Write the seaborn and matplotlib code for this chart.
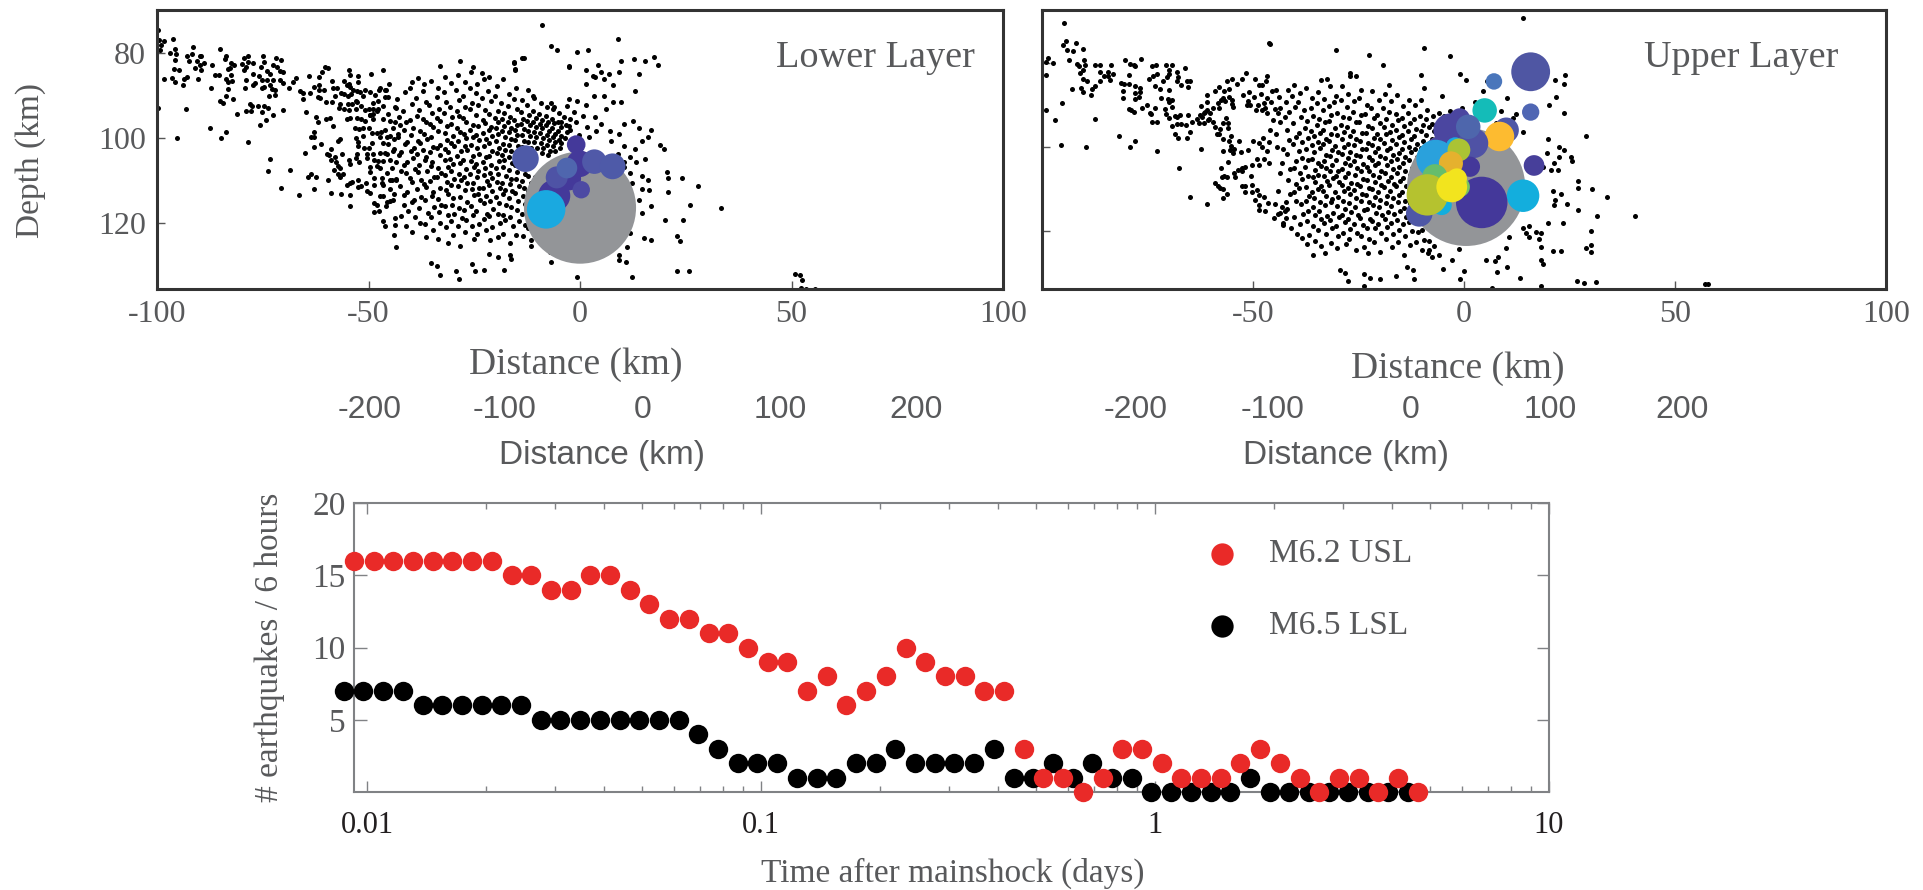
import pandas as pd
import matplotlib
matplotlib.use("Agg")
import matplotlib.pyplot as plt
import seaborn as sns

# Aftershock locations (distance km, depth km).
lower_west = [
(-99.8,74.8),(-99.6,77),(-98.4,77.2),(-99.1,78.1),(-99.2,79.3),(-96.1,76.9),(-95.7,79.2),(-97,80.1),(-95.4,80.4),(-95.8,81.7),
(-93,80.7),(-91.8,80.3),(-91.5,78.7),(-92.4,82),(-90.6,82),(-89.9,80.7),(-89.5,80.7),(-88.8,82.5),(-89.9,83),(-91,83.5),
(-89.5,84),(-95.9,83.8),(-94.9,84.2),(-98.4,86.2),(-96.5,86),(-95.8,87),(-93.9,87.7),(-93.7,86.2),(-92.9,85.7),(-90.3,86.2),
(-86.9,82.9),(-85,79.2),(-83.8,80.7),(-84,81.6),(-82.5,82.4),(-81.7,82.8),(-82.7,83.6),(-83.3,83.8),(-86.2,85.2),(-85.3,85.2),
(-82.5,85.2),(-83.6,86.2),(-82.3,86.7),(-83.3,87),(-87.2,88.4),(-83.2,88.6),(-79.2,88.4),(-78.9,86.4),(-80,82.7),(-79.4,81.2),
(-78.4,80.7),(-78.6,82.2),(-77.3,82.4),(-78.9,83.4),(-79.4,84.2),(-77.2,85),(-75.9,85.4),(-75.2,86.4),(-74,86.4),(-76.8,87.2),
(-77.2,87.6),(-75,80.7),(-74.7,82.2),(-75.4,83.4),(-73.9,84.4),(-73.2,85.1),(-71.8,81.2),(-70.7,81.8),(-72.6,82.8),(-71.7,83.4),
(-70.9,84.4),(-70.3,84.6),(-72.5,86.4),(-71,86.4),(-70.3,87.1),(-73.4,87.6),(-74.7,88),(-75.1,88.4),(-72.8,88.5),(-72.1,88.8),
(-73.5,90.3),(-72.1,90),(-68.7,88.4),(-67.9,86.8),(-67.2,85.9),(-64,85.4),(-61,84.5),(-60.4,83.3),(-59.5,83.7),(-61.8,85.8),
(-61.6,87.7),(-62.8,88.1),(-61.8,88.8),(-63.8,89.5),(-66.2,88.9),(-65.4,89.5),(-65.6,90.9),(-60.5,88.8),(-61.9,90.5),(-61.4,90.7),
(-85,91.3),(-84.3,91.9),(-83.6,90.3),(-82.1,90.9),(-78,92.1),(-77.5,92.5),(-76.1,92.6),(-74.8,92.5),(-73.7,93),(-70.1,93.5),
(-81,94.3),(-78.9,93.8),(-77.8,93.8),(-75.2,94),(-72.6,94.7),(-74.3,95.8),(-75.6,96.9),(-93.1,93.3),(-99.8,93),(-87.4,97.6),
(-83.6,98.6),(-84.9,100),(-95.3,100),(-78.4,101),(-73.2,104.9),(-73.7,107.9),(-68.5,107.6),(-70.6,111.7),(-66.5,113.4),(-64.3,109.3),
(-63.6,108.5),(-62.5,109.2),(-62.9,112.1),(-64.7,94),(-62.4,95.2),(-61.9,96.2),(-60.1,95.5),(-59.2,95.4),(-58.4,97.2),(-63,98.6),
(-63.5,99.7),(-62.9,99.7),(-65.1,103.6),(-63,102.2),(-61.2,101.4),(-57.3,100.8),(-56.7,100.2),(-58.9,102.7),(-59.9,103.8),(-59.3,104.1),
(-58.9,105.1),(-57.9,104.4),(-57.8,105.6),(-56.2,103.9),(-54.5,105.1),(-54.3,106.1),(-52.8,103.7),(-52.9,104.7),(-52.2,105.7),(-57.1,106.6),
(-56.7,107.2),(-58.1,107.6),(-57.3,108.4),(-56.1,108.4),(-56.7,109.1),(-59.6,109.8),(-54.4,110.6),(-55,111),(-54,110.4),(-52.5,109.9),
(-52.6,111.6),(-51.8,111.4),(-50.7,110.6),(-58.9,112.9),(-56.6,113.1),(-54.3,113.5),(-54.3,116),(-50.3,112.4),(-49.6,112.9),(-48.8,111),
(-48.8,109.4),(-46.5,119.5),(-46.1,120.6),(-44,122.9),(-43.6,125.7),(-48.8,115.4),(-48.1,115.8),(-48.6,117.5),(-47.4,117.1),(-45.7,115),
(-45.9,115.9),(-47.3,113.7),(-46.5,113.6),(-43.7,118.8),(-43.7,120.4),(-44.3,114.7),(-44.8,114.8),(-58.6,86.6),(-55.9,86.7),(-54.7,87.3),
(-54.5,84.2),(-54.4,85.2),(-52.5,85.5),(-52.5,87),(-49.3,85),(-46.5,84.2),(-45.2,87.3),(-46,88.7),(-58.3,88.4),(-57.5,88.4),
(-56.6,89.5),(-57.9,90.3),(-55.1,87.7),(-54.4,88.1),(-53.6,88.7),(-52.8,88.9),(-55.7,89.7),(-54.9,90.3),(-54.2,89.8),(-52,89.2),
(-50.8,88.7),(-49.6,89.3),(-48.5,89.9),(-51.4,90.3),(-53,91.3),(-53.8,92.1),(-54.9,92.1),(-56.7,92.1),(-58.7,91.7),(-60,91.7),
(-56.9,93.1),(-55.8,93.3),(-54.5,93.4),(-52.9,93.2),(-49.7,94.7),(-48.9,94.4),(-47.9,93.6),(-52.8,91.7),(-51.8,92.6),(-50.8,93.4),
(-49.9,93.2),(-49,93.3),(-47.7,93.3),(-47.7,91.3),(-48.9,91.8),(-46.2,90.5),(-45.3,90.5),(-43.7,92.7),(-45.3,94.3),(-46.5,92.5),
(-43.6,93),(-49.6,94.7),(-48.9,95.5),(-50.8,96.1),(-51.8,95.5),(-52.7,95.3),(-54.3,95.3),(-55.2,95.5),(-53.2,97.8),(-52.2,98),
(-51.2,97.6),(-49.9,97.8),(-49.2,98.9),(-48,98.8),(-47,98.6),(-46,98.2),(-46.5,95.6),(-45,96),(-43.7,96.4),(-44.3,97.8),(-43.1,99),
(-44.9,99.5),(-45.6,99.9),(-47.3,99.7),(-44,100.4),(-52.9,100),(-51.3,99.6),(-52.4,101),(-52.6,101.9),(-51,102.3),(-50,102.3),
(-49.1,101.3),(-46.5,101.3),(-45.3,101.5),(-44,102.6),(-44.3,103),(-50.4,103.7),(-50.4,104.7),(-49,103.7),(-47.3,103.5),(-46.1,103.5),
(-45.7,103.9),(-48.8,105.3),(-47.7,105.5),(-46.5,105.5),(-45,105.2),(-43.6,105.7),(-49.6,106.9),(-48.1,106.6),(-47.3,107.2),(-45.7,108.2),
(-44.5,107.2),(-49.6,108),(-46.9,109.5),(-44.5,109.9),(-46.9,110.6),(-44.9,110),(-46.5,111),(-43.6,109.8),(-45,112),(-43.9,113.3),
(-47.4,88.7),(-47.2,88.3),(-45.9,88.8),
]

# crowded middle of the lower cloud, estimated column by column
lower_core = [
(-33.1,83.1),(-28.3,82),(-25.3,83.3),(-23.2,84.8),(-15.6,82.3),(-13.3,81.3),(-15.3,84),(-35.3,129.3),(-33.8,130.1),(-33.1,132.2),
(-29.4,131.2),(-28.6,133.2),(-25.5,129.6),(-24.8,131.2),(-22.7,131),(-17.9,131),(-19.3,127.9),(-21.4,127.2),(-16.5,127.5),(-16.2,128.5),(-6.8,129.1),(-11.7,125.5),
(-43.2,90.8),(-42.9,95.2),(-42.6,97.1),(-43,99.8),(-42.4,103.4),(-42.8,104.1),(-42.2,107.9),(-43.4,109.6),(-42.5,111.3),(-41.7,115.8),(-42.3,118.4),
(-41.4,89.3),(-41.8,93.7),(-41.2,96.4),(-41.6,98.2),(-40.9,100.9),(-41.3,101.4),(-41,105.6),(-41.7,106.3),(-41.1,108.2),(-40.8,112.7),(-41.5,113.4),(-40.6,117.3),(-41.2,120.6),
(-39.8,86.8),(-40.3,88.4),(-39.6,92.1),(-40.1,95.8),(-39.4,97.7),(-40,99.4),(-39.2,102.3),(-39.9,103.1),(-39.5,104.7),(-39.1,107.4),(-40.2,109.5),(-39.7,110.3),(-39.3,114.6),(-39.8,115.1),(-39,118.7),(-39.6,122.2),
(-38.4,85.9),(-38.7,90.6),(-38.1,93.4),(-38.6,94.9),(-37.9,98.3),(-38.3,100.7),(-37.8,101.2),(-38.5,103.9),(-38,106.4),(-38.4,108.1),(-37.7,109.9),(-38.6,112.1),(-37.6,113.8),(-38.1,116.6),(-37.8,119.9),
(-36.9,87.4),(-37.2,89.1),(-36.5,91.7),(-37,95.6),(-36.3,96.2),(-36.8,99.1),(-36.2,100.3),(-37.1,102.8),(-36.4,104.4),(-36.7,105.2),(-36.1,107.8),(-36.9,110.9),(-36.3,111.6),(-36.6,114.7),(-36,117.6),(-36.7,120.3),(-36.4,123.2),
(-35.2,86.6),(-35.6,92.3),(-35,94.1),(-35.4,96.8),(-34.8,97.5),(-35.3,99.9),(-34.7,102.1),(-35.5,103.3),(-34.9,105.8),(-35.2,106.6),(-34.6,109.2),(-35.4,110.1),(-34.8,112.8),(-35.1,113.6),(-34.5,116.2),(-35.3,118.6),(-34.7,121.7),
(-33.6,88.2),(-33.9,90.4),(-33.3,93.2),(-33.7,95.3),(-33.1,96.1),(-33.6,98.4),(-33,101.6),(-33.8,102.4),(-33.2,104.1),(-33.5,107.1),(-32.9,108.3),(-33.7,109.1),(-33.1,111.9),(-33.5,114.3),(-32.8,115.8),(-33.4,117.4),(-33,119.9),(-33.6,123.7),
(-31.8,85.8),(-32.2,89.3),(-31.6,91.6),(-32.1,94.2),(-31.5,97.3),(-32,98.9),(-31.4,100.6),(-31.9,102.7),(-31.3,103.4),(-31.8,105.1),(-31.2,106.9),(-32,108.8),(-31.4,110.4),(-31.7,112.2),(-31.1,113.1),(-31.9,116.1),(-31.3,118.2),(-31.6,121),(-31.2,124.6),
(-30.4,87.2),(-30.8,92.8),(-30.2,95.1),(-30.6,96.7),(-30,99.6),(-30.5,101.2),(-29.9,102),(-30.7,104.9),(-30.1,106.2),(-30.4,107.7),(-29.8,109.6),(-30.6,111.1),(-30,114.2),(-30.3,115.7),(-29.7,117.8),(-30.4,119.6),(-30,122.9),
(-28.9,85.2),(-29.2,88.7),(-28.6,91.1),(-29.1,93.8),(-28.5,94.9),(-29,97.7),(-28.4,98.6),(-28.8,100.8),(-28.2,103.1),(-29,104.3),(-28.4,105.9),(-28.7,108.6),(-28.1,110),(-28.9,111.4),(-28.3,113.9),(-28.6,116.5),(-28,118.9),(-28.8,120.8),(-28.3,125.4),
(-27.3,86.9),(-27.7,90.1),(-27.1,92.7),(-27.6,95.4),(-27,96.3),(-27.5,99),(-26.9,100.1),(-27.3,102),(-26.8,102.9),(-27.6,105.2),(-27,107.3),(-27.4,109.1),(-26.8,110.6),(-27.2,112.3),(-26.7,115.1),(-27.5,117),(-26.9,119.4),(-27.3,122.1),
(-25.8,84.6),(-26.1,88.4),(-25.5,91.9),(-26,93.2),(-25.4,96.9),(-25.9,98.1),(-25.3,99.7),(-25.8,101.6),(-25.2,104.2),(-25.7,105.4),(-25.1,106.8),(-25.9,108.4),(-25.3,110.7),(-25.6,112),(-25,113.4),(-25.7,115.9),(-25.2,118.1),(-25.6,120.7),(-25.1,123.8),
(-24.3,87.3),(-24.7,89.6),(-24.1,92.3),(-24.6,94.7),(-24,97.2),(-24.5,99.4),(-23.9,100.6),(-24.3,102.3),(-23.8,103.9),(-24.6,106.1),(-24,107.9),(-24.4,109.3),(-23.8,111.8),(-24.2,113.1),(-23.7,114.6),(-24.5,117.3),(-23.9,120.2),(-24.3,122.7),
(-22.8,86.1),(-23.1,90.7),(-22.5,93.4),(-23,95.9),(-22.4,96.6),(-22.9,98.8),(-22.3,100.2),(-22.8,101.9),(-22.2,104.6),(-23,105.7),(-22.4,107),(-22.7,108.7),(-22.1,110.1),(-22.9,111.9),(-22.3,113.7),(-22.6,115.2),(-22,117.9),(-22.7,119.1),(-22.2,121.6),
(-21.4,85.7),(-21.7,88.9),(-21.1,91.4),(-21.6,94.4),(-21,97.4),(-21.5,98.1),(-20.9,99.6),(-21.4,101.3),(-20.8,103.1),(-21.6,104.3),(-21,106.4),(-21.3,108.2),(-20.7,109.4),(-21.5,111),(-20.9,112.6),(-21.2,114.8),(-20.6,116.7),(-21.4,118.4),(-20.8,120.9),(-21.2,124),
(-19.7,87.8),(-20.1,90.3),(-19.5,93.7),(-20,95.3),(-19.4,96.2),(-19.9,97.8),(-19.3,99.1),(-19.8,100.7),(-19.2,102.4),(-19.7,103.6),(-19.1,105.5),(-19.9,107.2),(-19.3,108.6),(-19.6,110.3),(-19,111.7),(-19.8,113.9),(-19.2,115.4),(-19.5,117.8),(-18.9,120.1),(-19.4,123.4),
(-18.2,86.3),(-18.6,91.8),(-18,94.2),(-18.5,95.7),(-17.9,97.3),(-18.4,98.4),(-17.8,99.9),(-18.3,101.4),(-17.7,102.8),(-18.5,104.1),(-17.9,105.1),(-18.2,106.9),(-17.6,108.9),(-18.4,110.6),(-17.8,112.2),(-18.1,113.3),(-17.5,115.7),(-18.3,118.1),(-17.7,119.3),(-18.1,122.5),
(-16.8,89.8),(-17.1,92.6),(-16.5,95.1),(-17,96.4),(-16.4,97.6),(-16.9,98.7),(-16.3,100.3),(-16.8,101.7),(-16.2,103.2),(-16.7,104.5),(-16.1,105.9),(-16.9,107.6),(-16.3,109.7),(-16.6,110.9),(-16,112.6),(-16.8,114.2),(-16.2,116.3),(-16.5,118.7),(-15.9,120.7),(-16.6,124.8),
(-15.2,88.3),(-15.6,90.9),(-15,93.3),(-15.5,95.8),(-14.9,96.9),(-15.4,98.1),(-14.8,99.3),(-15.3,100.6),(-14.7,101.9),(-15.2,103.3),(-14.6,104.8),(-15.4,106.3),(-14.8,108.1),(-15.1,109.7),(-14.5,111.4),(-15.3,113),(-14.7,114.9),(-15,116.9),(-14.4,119.6),(-15.1,122.8),
(-13.7,91.2),(-14,93.9),(-13.4,95.6),(-13.9,96.7),(-13.3,97.9),(-13.8,99.4),(-13.2,100.7),(-13.7,102.1),(-13.1,103.2),(-13.6,106.8),(-13,108.4),(-13.8,110.2),(-13.2,111.8),(-13.5,113.6),(-12.9,115.6),(-13.7,117.9),(-13.1,120.4),(-13.4,123.1),
(-12.3,88.7),(-12.6,92.2),(-12,94.6),(-12.5,96.1),(-11.9,97),(-12.4,98.3),(-11.8,99.5),(-12.3,100.9),(-11.7,102.3),(-12.2,108.9),(-11.6,110.7),(-12.4,112.6),(-11.8,114.4),(-12.1,116.1),(-11.5,118.6),(-12.2,121.2),(-11.6,124),
(-10.8,90.6),(-11.1,93.6),(-10.5,95.4),(-11,96.4),(-10.4,97.4),(-10.9,98.7),(-10.3,99.8),(-10.8,101.1),(-10.2,102.4),(-10.7,109.1),(-10.1,112.8),(-10.9,115.1),(-10.3,117.2),(-10.6,119.9),(-10,122.7),
(-9.3,91.9),(-9.6,94.3),(-9,95.9),(-9.5,96.8),(-8.9,97.6),(-9.4,98.9),(-8.8,100.1),(-9.3,101.2),(-8.7,102.3),(-9.1,103.6),(-9.4,121.6),(-8.8,124.6),
(-7.8,92.7),(-8.1,94.9),(-7.5,96.3),(-8,97.1),(-7.4,98.4),(-7.9,99.4),(-7.3,100.6),(-7.8,101.7),(-7.2,103),(-7.6,104.1),(-7.7,123.2),(-7.1,126.8),
(-6.4,93.2),(-6.7,95.6),(-6.1,96.6),(-6.6,97.7),(-6,99),(-6.5,99.9),(-5.9,101.1),(-6.4,102),(-5.8,103.2),(-6.2,125.1),
(-4.9,94.1),(-5.2,96.4),(-4.6,97.4),(-5.1,98.3),(-4.5,99.6),(-5,100.6),(-4.4,101.3),(-4.8,102.3),(-3.8,95.2),(-3.4,97),(-3.1,98.6),(-3.6,100),(-2.4,95.7),(-2.7,97.3),
]

lower_east = [
(-8.9,73.5),(-6.8,78.5),(-5.4,79.4),(-0.6,79.8),(1.9,79.4),(8.9,76.7),(12.8,81.4),(15.4,82),(17.5,81),(18.4,82.8),(9.8,82),
(9.2,84.6),(1.5,84.2),(4.3,83),(5,84.6),(3.6,85.7),(-2.6,83.2),(-13.7,81.3),(-15.5,82.4),(-15.4,83.9),(14,85.1),(12.9,88.9),
(7.8,87.6),(1.5,87.3),(-2.6,90.9),(-0.6,91.3),(1.5,92.4),(3.2,90.1),(5.7,90.2),(7.8,91.7),(9.8,91.7),(6.1,93.2),(-6.8,91.8),
(-6.1,92.8),(-11,90.1),(0.8,94.8),(3.6,95.2),(5,96.8),(7.1,98.3),(9.2,99.1),(10.5,96.8),(12.6,96),(14,97.6),(16.8,98.1),(16.1,99.9),
(14.7,100.7),(18.9,101.7),(19.8,102.7),(12.9,102.7),(10.5,101.9),(13.3,105.8),(15.4,105),(11.9,108.2),(14.7,109),(16.1,109.8),(20.5,108),
(20.9,109.4),(24.1,109.4),(27.9,111.3),(20.9,112.8),(14.7,112.1),(16.2,112.2),(14,114.5),(16.8,116.1),(14.7,117.6),(26.1,115.7),(33.4,116.5),
(20.2,119.2),(24.4,119.2),(23,123.1),(23.7,124.3),(15.1,123.5),(16.8,123.9),(11.9,122.4),(11.2,125.7),(9.2,127.5),(9.2,128.7),(10.8,129.1),
(23,131.2),(25.8,131.2),(12.3,132.8),(-0.6,132.6),(50.8,132),(51.9,132.2),(52.4,133.4),(53.5,135.4),(55.6,135.4),(52.2,135.2),
(-2.5,83.3),(3,85.4),(5.7,86.1),(6.8,85.1),(-3,92.5),(-1.5,94),(-4.5,96.2),(-1,96.3),(1.7,97.4),(3.9,98.5),(-2.4,98.1),(-0.3,99.3),
(2.2,99.9),(7.4,100.7),(9,103.7),(10.4,105.7),(11.8,104.4),(12.4,110.5),(10.4,106.8),
]

upper_west = [
(-94.7,70.4),(-94.2,74.7),(-95.1,75.8),(-92,75.2),(-94,76.9),(-92.6,77.1),(-90.4,76.7),(-98.5,78.8),(-99.1,79.8),(-97.3,79.9),
(-93.6,79.3),(-90,79.2),(-91.6,80.2),(-91.2,80.8),(-89.8,80.4),(-87.4,80.6),(-86.2,80.4),(-83.7,80.6),(-90.2,81.6),(-91,82.4),
(-86.2,82.1),(-84.4,82.1),(-85.4,83.2),(-83.2,82.6),(-84.4,83.2),(-83.9,84),(-90.3,83.8),(-89.4,84.2),(-86.2,84.2),(-87.4,85.6),
(-88.2,86.2),(-90.8,85.9),(-92.8,86.1),(-90.2,86.9),(-88.3,87.6),(-99.1,82.8),(-95.3,89.6),(-99.1,91.1),(-97,93.6),(-87.4,93.4),
(-81.7,97.5),(-78,98.6),(-79.2,100.1),(-95.4,99.5),(-89.6,100.1),(-72.7,101),(-67.6,105),(-62.3,100.5),(-64.9,111.8),(-60.8,113.5),
(-57.2,112.1),(-79.3,82.9),(-78.3,80.4),(-76.5,79.1),(-80.4,79.2),(-79.2,80.2),(-78,80.8),(-81.3,84.7),(-80.5,85),(-79.3,85),
(-80.7,86.7),(-78,85.4),(-76.8,85.9),(-76.7,86.8),(-78,87.2),(-77,88),(-80.7,88.3),(-78,88.7),(-75.2,89.9),(-79.4,91),(-78.9,91.3),
(-78.3,91.7),(-76.4,90.8),(-74.3,91.8),(-73.3,90.7),(-73.9,94.1),(-72.8,94),(-74.2,92.2),(-74.7,83.9),(-73.8,83.2),(-72.8,82.7),
(-73.9,80.7),(-73.1,80.4),(-70.6,80.4),(-69.2,80.4),(-70,81.6),(-69.9,82.6),(-68.1,82.2),(-67.8,83.4),(-66.2,81.3),(-65.7,84.3),
(-64.9,84.3),(-65.5,85.7),(-67.1,85.2),(-67.9,84.2),(-70.3,83.3),(-71.3,84.4),(-73.2,85.6),(-72,86.2),(-69.8,86.5),(-70.2,88.7),
(-71.7,88.4),(-69.9,89.3),(-69.3,88.8),(-70.8,90.9),(-69.2,90.5),(-70.5,92.2),(-69.8,93),(-67.2,92.5),(-65.5,92.5),(-68.6,92.6),
(-68,92.8),(-67.1,94.5),(-69.1,95),(-68,94.5),(-68.6,96.8),(-67.8,97.8),(-65.6,97.9),(-64.9,96.5),(-65.8,94.8),(-64.5,94.1),
(-63.3,93.3),(-62.5,92.3),(-62.2,92.9),(-61.3,91.7),(-60.8,91.1),(-59.4,90.7),(-58.1,90.7),(-57,88.4),(-57.7,88.8),(-62.3,90.2),
(-60.8,87.6),(-59,86.6),(-58.1,85.8),(-56.2,84.3),(-54.9,83.9),(-55.8,86.1),(-56.9,86.7),(-55.6,88),(-54.9,88.8),(-60.8,89.2),
(-58.3,89.5),(-56.6,89),(-55,89.7),(-54.7,90.5),(-61.5,92),(-60.1,92),(-60.5,93.4),(-59.5,94.1),(-58.9,95.3),(-57.9,95.7),
(-57,94.4),(-56.4,93.1),(-55.9,94.3),(-62.7,94.3),(-61.7,94.4),(-60.7,93.6),(-56,95.5),(-58.6,97),(-58,97),(-57,98.1),
(-55.6,98.5),(-55.2,97.3),(-55.2,99.7),(-53.3,98.6),(-54.6,100.6),(-55.4,100.8),(-54.7,101.5),(-52.8,101.1),(-51.2,100.8),(-50.1,98.6),
(-48.6,99.1),(-47.7,97.8),(-46.2,98.7),(-45.9,96),(-44.6,96.8),(-44.4,100),(-46.6,101),(-47.8,100.1),(-46.3,103.8),(-47.4,102.8),
(-49.1,102.8),(-48.5,104.3),(-50.2,104.3),(-52.5,104.9),(-53.6,105.5),(-55.9,103.5),(-57.2,100.9),(-52.5,105.7),(-54.5,106.1),(-54.2,107.2),
(-57.5,105.1),(-56.9,106.8),(-56.2,107.2),(-57.3,107.1),(-57.1,110),(-56.2,111.2),(-59.1,108.5),(-58.4,109.4),(-57.8,109.7),(-52,110.7),
(-51.8,109.3),(-50.2,110.8),(-49,110.2),(-48.6,111.4),(-47.4,111.8),(-46.4,113.3),(-44.8,113.6),(-45.1,117),(-44.1,116),(-43.5,115.6),
(-48.5,115),(-47.2,115.2),(-43.2,114.4),(-42.2,113),(-42.4,115.2),(-43,118),(-42.9,118.5),(-42.2,116.8),(-48.6,113.7),(-49.5,112.6),
(-50.3,109.1),(-50.5,106.8),(-51.8,104.7),(-52.7,109.4),(-44,110.4),(-43.5,106.2),(-43.2,103.7),(-42.8,100.5),(-43.6,94),(-42.5,92.8),
(-44.8,90.9),(-43.6,90.7),(-45.2,93.6),(-46.6,92),(-47.1,90.7),(-47.9,91.1),(-49.2,91.2),(-50.7,90.1),(-51.4,89.9),(-48.8,89.9),
(-53.9,85),(-52.6,83.8),(-51.6,82.3),(-49.5,83.9),(-48.6,85.2),(-46.7,83),(-46.9,84.3),(-47.9,85.2),(-44.5,86.4),(-43.9,88),
(-52.3,87.6),(-50.9,86.8),(-49.8,88.1),(-48.2,87.3),(-46.8,88.4),(-45.5,86.7),(-51.1,89),(-47.3,89.6),(-45.7,89.4),(-44.1,91.9),
]

# crowded middle of the upper cloud, estimated column by column
upper_core = [
(-46.3,75.2),(-46,75.4),(-30.4,76.9),(-22.6,78.1),(-27,82.3),(-26.9,83),(-33.9,84.1),(-32.5,83.8),(-25.6,83.2),(-19.3,80.6),(-17.7,85.3),
(-29.4,129.2),(-28.1,130),(-27.5,131.9),(-23.8,130.2),(-22.2,131.2),(-20,131.5),(-16.2,130.8),(-13.4,128.5),(-12.2,129.2),(-23.6,133.2),(-11.9,131.5),(-5,129),
(-41.8,86.4),(-42.2,89.2),(-41.4,91.7),(-41.9,95.9),(-41.5,98.4),(-42,101.6),(-41.2,105.2),(-41.7,107.8),(-41.3,111.1),(-41.9,114.7),(-41.1,119.2),
(-40.4,85.3),(-40.7,87.9),(-40.1,90.6),(-40.6,94.2),(-39.9,97.6),(-40.5,99.3),(-39.8,103.4),(-40.3,104.9),(-39.7,108.7),(-40.4,110.6),(-39.9,112.8),(-40.2,116.7),(-39.6,120.6),
(-38.9,87.1),(-39.3,89.4),(-38.7,92.8),(-39.1,96.7),(-38.5,98.9),(-39,100.9),(-38.4,102.6),(-38.8,106.2),(-38.3,107.6),(-39,109.8),(-38.6,113.6),(-38.2,115.9),(-38.9,118.3),(-38.3,121.7),
(-37.4,85.9),(-37.8,91.2),(-37.2,93.9),(-37.7,95.4),(-37,97.9),(-37.5,100.4),(-36.9,103.1),(-37.6,104.7),(-37,106.9),(-37.4,109.5),(-36.8,111.6),(-37.5,112.9),(-36.9,115.3),(-37.3,117.6),(-36.8,120.9),(-37.2,123.2),
(-36,88.3),(-36.3,90.8),(-35.7,92.6),(-36.2,96.3),(-35.6,97.5),(-36.1,99.6),(-35.5,101.2),(-36,102.9),(-35.4,105.4),(-35.9,107.1),(-35.3,108.3),(-36.1,110.7),(-35.5,112.1),(-35.8,114.4),(-35.2,116.2),(-35.9,118.9),(-35.4,122.4),(-35.7,125.6),
(-34.6,86.8),(-34.9,89.6),(-34.3,93.3),(-34.8,94.8),(-34.2,96.6),(-34.7,98.9),(-34.1,100.2),(-34.6,103.7),(-34,104.6),(-34.5,106.6),(-33.9,109.2),(-34.7,110.1),(-34.1,113.1),(-34.4,115.2),(-33.8,117.2),(-34.5,119.8),(-33.9,123.5),
(-33.2,88.6),(-33.5,91.3),(-32.9,94.1),(-33.4,95.9),(-32.8,98.1),(-33.3,99.3),(-32.7,101.8),(-33.2,103.3),(-32.6,105.1),(-33.1,106.8),(-32.5,108),(-33.3,110.4),(-32.7,111.7),(-33,113.9),(-32.4,116.4),(-33.1,118.2),(-32.6,120.6),(-33,125.2),
(-31.7,85.4),(-32.1,90.2),(-31.5,92.4),(-32,93.8),(-31.4,96.9),(-31.9,98.6),(-31.3,100.7),(-31.8,102.2),(-31.2,104.4),(-31.7,105.8),(-31.1,107.5),(-31.9,109.1),(-31.3,112.4),(-31.6,113.2),(-31,115.6),(-31.8,117.4),(-31.2,119.3),(-31.5,122.8),
(-30.3,87.8),(-30.7,89.4),(-30.1,91.9),(-30.6,95.6),(-30,97.2),(-30.5,99.7),(-29.9,101.1),(-30.4,103.2),(-29.8,105.6),(-30.3,106.9),(-29.7,108.4),(-30.5,110.8),(-29.9,111.9),(-30.2,114.1),(-29.6,116.6),(-30.4,118.8),(-29.8,121.2),(-30.1,124.1),
(-28.9,85.6),(-29.2,88.8),(-28.6,92.9),(-29.1,94.7),(-28.5,96.4),(-29,98.2),(-28.4,100),(-28.9,101.6),(-28.3,103.9),(-28.8,105.2),(-28.2,107.2),(-29,109),(-28.4,110.4),(-28.7,112.8),(-28.1,114.7),(-28.9,116.2),(-28.3,117.9),(-28.6,120.4),(-28,123.1),
(-27.4,87.3),(-27.8,90.6),(-27.2,93.1),(-27.7,95.2),(-27.1,97.4),(-27.6,99.2),(-27,101.2),(-27.5,102.7),(-26.9,104.3),(-27.4,106.1),(-26.8,108.6),(-27.6,109.7),(-27,111.3),(-27.3,113.4),(-26.7,115.4),(-27.5,117.1),(-26.9,119.6),(-27.2,121.9),
(-26,89.1),(-26.3,91.7),(-25.7,94),(-26.2,96.1),(-25.6,98.2),(-26.1,99.5),(-25.5,101.8),(-26,103.4),(-25.4,105.1),(-25.9,106.7),(-25.3,108.9),(-26.1,110.2),(-25.5,112.1),(-25.8,114.2),(-25.2,116.1),(-26,118.4),(-25.4,120.5),(-25.7,124.6),
(-24.5,86.4),(-24.9,88.3),(-24.3,92.4),(-24.8,94.1),(-24.2,96.6),(-24.7,98.6),(-24.1,100.4),(-24.6,102.1),(-24,104),(-24.5,105.8),(-23.9,107.7),(-24.7,109.4),(-24.1,111.2),(-24.4,112.9),(-23.8,115.1),(-24.6,116.8),(-24,118.6),(-24.3,121.1),(-23.7,123.7),
(-23.1,89.9),(-23.4,92.1),(-22.8,95),(-23.3,96.7),(-22.7,99.1),(-23.2,100.6),(-22.6,102.4),(-23.1,104.7),(-22.5,105.6),(-23,107.9),(-22.4,109.8),(-23.2,111.4),(-22.6,113.2),(-22.9,114.8),(-22.3,117.1),(-23.1,119.2),(-22.5,122),(-22.8,125.3),
(-21.7,86.7),(-22,90.8),(-21.4,93.2),(-21.9,95.6),(-21.3,97.8),(-21.8,99.5),(-21.2,101.1),(-21.7,103.2),(-21.1,104.4),(-21.6,106.6),(-21,108.3),(-21.8,110),(-21.2,111.9),(-21.5,113.8),(-20.9,115.7),(-21.7,117.7),(-21.1,119.4),(-21.4,122.7),
(-20.2,88.9),(-20.6,92.3),(-20,94.4),(-20.5,96.9),(-19.9,98.2),(-20.4,100.2),(-19.8,102.1),(-20.3,103.9),(-19.7,105.8),(-20.2,107.2),(-19.6,109),(-20.4,110.7),(-19.8,112.7),(-20.1,114.3),(-19.5,116.1),(-20.3,118.3),(-19.7,120.4),(-20,124.9),
(-18.8,87.4),(-19.1,90.7),(-18.5,93.4),(-19,95.2),(-18.4,97),(-18.9,99.1),(-18.3,100.8),(-18.8,102.7),(-18.2,104.4),(-18.7,106.1),(-18.1,108.2),(-18.9,109.6),(-18.3,111.6),(-18.6,113.4),(-18,115.4),(-18.8,117.2),(-18.2,119.1),(-18.5,121.8),
(-17.3,89.1),(-17.7,91.6),(-17.1,94.7),(-17.6,96.4),(-17,98.4),(-17.5,100.2),(-16.9,101.9),(-17.4,103.3),(-16.8,105.2),(-17.3,107.1),(-16.7,108.7),(-17.5,110.4),(-16.9,112.2),(-17.2,114.1),(-16.6,116),(-17.4,118.2),(-16.8,120.6),(-17.1,123.9),
(-15.9,87.7),(-16.2,92.1),(-15.6,93.6),(-16.1,95.9),(-15.5,97.6),(-16,99.4),(-15.4,101.4),(-15.9,102.9),(-15.3,104.8),(-15.8,106.2),(-15.2,108),(-16,109.4),(-15.4,111.4),(-15.7,113.2),(-15.1,115.3),(-15.9,117.4),(-15.3,119.7),(-15.6,122.6),
(-14.4,90.3),(-14.8,93),(-14.2,95.1),(-14.7,97.1),(-14.1,98.9),(-14.6,100.4),(-14,102.4),(-14.5,103.8),(-13.9,105.6),(-14.4,107.3),(-13.8,109.4),(-14.6,110.8),(-14,112.8),(-14.3,114.5),(-13.7,116.6),(-14.5,118.3),(-13.9,121.1),(-14.2,125.6),
(-13,88.9),(-13.3,91.9),(-12.7,94.3),(-13.2,96.3),(-12.6,98),(-13.1,99.9),(-12.5,101.3),(-13,103.1),(-12.4,104.9),(-12.9,106.7),(-12.3,108.4),(-13.1,110.6),(-12.5,111.9),(-12.8,113.4),(-12.2,115.6),(-13,117.9),(-12.4,120.1),(-12.7,123.4),
(-11.5,90.1),(-11.9,93.4),(-11.3,95.7),(-11.8,97.4),(-11.2,99.2),(-11.7,100.6),(-11.1,102.4),(-11.6,104.1),(-11,105.9),(-11.5,107.4),(-10.9,109.4),(-11.7,111.1),(-11.1,112.6),(-11.4,117.9),(-10.8,120.2),(-11.3,122.6),
(-10.1,88.8),(-10.4,92.6),(-9.8,94.7),(-10.3,96.2),(-9.7,98.6),(-10.2,100.3),(-9.6,101.9),(-10.1,103.1),(-9.5,104.3),(-10,119.8),(-9.4,122.1),(-9.9,124.6),
(-8.7,91.1),(-9,93.3),(-8.4,95.3),(-8.9,97.2),(-8.3,99.4),(-8.8,100.8),(-8.2,122.4),(-8.6,125.2),(-7.3,92.6),(-7.6,94.6),(-7,96.3),(-7.5,98.1),(-6.8,99.1),(-7.2,123.5),
(-6,91.9),(-5.8,94),(-6.2,95.7),(-5.4,97.3),(-4.7,92.7),(-4.3,94.8),(-3.9,96.2),(-3.2,91.5),(-2.8,93.8),
]

upper_east = [
(14,69.2),(14.9,79.2),(-9.5,76.5),(-3.4,78.3),(-0.9,82.6),(0.5,84),(5.4,84.2),(7.2,83.8),(21.6,84),(23.7,85),(23.9,82.8),(21.9,88.2),(20.1,90),
(12.3,92.2),(10.3,88.4),(4.5,86.7),(6.1,89.9),(-10.1,82.8),(-9.5,85.9),(-5.1,87.8),(-0.4,90.7),(2.7,89.3),(8.8,91.4),(11.5,93.2),(14,96.5),
(7.7,94.2),(23.7,92),(29,97.4),(20,98.1),(22.5,99.9),(23.7,100.7),(22.4,102.3),(19.7,101.5),(25.6,103.3),(25.4,102.4),(18.7,104.7),(20.5,105.5),
(22.2,105.5),(21.3,103.8),(27,108),(27.1,109.8),(30.3,110),(33.8,111.8),(21,110.5),(23,111.3),(21.5,112.5),(21.3,113.8),(24.5,113.5),(27,114.9),
(31.6,116.4),(40.5,116.5),(23.4,118),(30,120),(19.8,118),(15.5,118.8),(14,119.2),(14.8,120.5),(15.5,121.5),(17.1,120.3),(18.3,120.5),(17.8,122),
(18.2,123.7),(21,124.7),(23,124.7),(29,124),(30,123.3),(30.2,125.1),(10.6,121.5),(10,124.1),(18.2,127),(18.8,127.8),(7.3,127.1),(8,126.1),
(5.3,126.8),(10.3,128.5),(7.9,129.8),(13.3,131.3),(6.7,133.5),(26.7,132),(28.5,132.3),(31.2,132.2),(18.3,133),(0,129.5),(-1,131.5),(5.1,135.1),
(57.1,132.6),(57.8,132.6),(58,134),(58.3,134.6),(-2.9,126.8),(-8.2,124.4),(-7.6,126.1),(-1.1,124.3),(-5.9,125.6),
]

# Rupture bubbles: distance, depth, diameter (km) and colour, in drawing order
lower_bubble_x = [0, -12.9, -0.1, -2.5, -6.1, -0.9, 3.4, 7.7, -5.5, -3.1, 0.3, -8]
lower_bubble_depth = [116.4, 104.9, 106.1, 109.6, 113.6, 101.6, 105.6, 106.7, 109.3, 107.1, 112.2, 116.8]
lower_bubble_size = [26.5, 6.3, 6.3, 5.5, 7.6, 4.4, 5.8, 6.1, 5.2, 4.9, 4.1, 9.1]
lower_bubble_color = ["#939598", "#4e5aa8", "#44399a", "#44399a", "#44399a", "#44399a", "#5059a8", "#4e5aa8", "#4e53a5", "#4f66ae", "#4d4aa3", "#1aa9e0"]

upper_bubble_x = [0.5, 15.8, 7.1, 15.8, 4.9, 10, 8.4, 16.6, 14, -1, -3.3, 2.2, -5.7, 1.4, 4.2, 1, -10.6, -5.3, -2.1, -6.7, -1.2, -3.1, -6.9, -1, -8.7, -2.9, -1.7]
upper_bubble_depth = [109.5, 82.1, 84.4, 91.7, 91.3, 96, 97.5, 104.4, 111.6, 93.2, 96, 99.1, 101.5, 104.7, 113.2, 95.2, 115.8, 113.8, 99.9, 102.9, 100.7, 103.9, 107.1, 109.5, 111.4, 109.5, 107.5]
upper_bubble_size = [28, 9.2, 3.9, 4.1, 5.8, 6, 7, 4.9, 7.7, 4.8, 7.9, 7.1, 7.9, 4.8, 12.2, 5.8, 6.3, 4.8, 4.4, 9.2, 5.4, 5.7, 6, 4.8, 9.8, 7.3, 4.8]
upper_bubble_color = ["#939598", "#4f56a3", "#4a76bb", "#4f66b3", "#14bcb8", "#4e57a6", "#fdbb30", "#473f9a", "#13aedd", "#4b46a0", "#4b46a0", "#4f52a5", "#4b46a0", "#44389a", "#44389a", "#4e66ac", "#4e57a6", "#13aedd", "#1aa9e0", "#2aa1dc", "#abc334", "#e5b12e", "#66bd6c", "#79c35e", "#b5c22f", "#f2e41e", "#f2e41e"]

# Earthquake rate curves
usl_time = [0.00927, 0.0104, 0.01167, 0.01309, 0.01469, 0.01648, 0.01849, 0.02075, 0.02328, 0.02612, 0.02931, 0.03289, 0.0369, 0.0414, 0.04645, 0.05212, 0.05848, 0.06561, 0.07362, 0.0826, 0.09268, 0.104, 0.1167, 0.1309, 0.1469, 0.1648, 0.1849, 0.2075, 0.2328, 0.2612, 0.2931, 0.3289, 0.369, 0.414, 0.4645, 0.5212, 0.5848, 0.6561, 0.7362, 0.826, 0.9268, 1.04, 1.167, 1.309, 1.469, 1.648, 1.849, 2.075, 2.328, 2.612, 2.931, 3.289, 3.69, 4.14, 4.645]
usl_count = [16, 16, 16, 16, 16, 16, 16, 16, 15, 15, 14, 14, 15, 15, 14, 13, 12, 12, 11, 11, 10, 9, 9, 7, 8, 6, 7, 8, 10, 9, 8, 8, 7, 7, 3, 1, 1, 0, 1, 3, 3, 2, 1, 1, 1, 2, 3, 2, 1, 0, 1, 1, 0, 1, 0]
lsl_time = [0.00873, 0.009795, 0.01099, 0.01233, 0.01384, 0.01552, 0.01742, 0.01954, 0.02193, 0.0246, 0.02761, 0.03097, 0.03475, 0.03899, 0.04375, 0.04909, 0.05508, 0.0618, 0.06934, 0.0778, 0.0873, 0.09795, 0.1099, 0.1233, 0.1384, 0.1552, 0.1742, 0.1954, 0.2193, 0.246, 0.2761, 0.3097, 0.3475, 0.3899, 0.4375, 0.4909, 0.5508, 0.618, 0.6934, 0.778, 0.873, 0.9795, 1.099, 1.233, 1.384, 1.552, 1.742, 1.954, 2.193, 2.46, 2.761, 3.097, 3.475, 3.899, 4.375]
lsl_count = [7, 7, 7, 7, 6, 6, 6, 6, 6, 6, 5, 5, 5, 5, 5, 5, 5, 5, 4, 3, 2, 2, 2, 1, 1, 1, 2, 2, 3, 2, 2, 2, 2, 3, 1, 1, 2, 1, 2, 1, 1, 0, 0, 0, 0, 0, 1, 0, 0, 0, 0, 0, 0, 0, 0]

depth_ticks = [80, 100, 120]
distance_ticks = [-100, -50, 0, 50, 100]
count_ticks = [5, 10, 15]
time_ticks = [0.01, 0.1, 1, 10]
old_ticks = ["-200", "-100", "0", "100", "200"]

W, H = 1923, 890
GREY = "#58595b"
SERIF = "Liberation Serif"
SANS = "Liberation Sans"

sns.set_theme(style="ticks")
plt.rcParams["font.family"] = [SERIF, "DejaVu Serif"]
plt.rcParams["axes.unicode_minus"] = False


def px_axes(fig, left, top, right, bottom):
    return fig.add_axes([left / W, 1 - bottom / H, (right - left) / W, (bottom - top) / H])


def fig_text(fig, x, y, s, **kw):
    kw.setdefault("color", GREY)
    kw.setdefault("ha", "center")
    kw.setdefault("va", "center")
    fig.text(x / W, 1 - y / H, s, **kw)


def draw_layer(ax, quakes, bub_x, bub_d, bub_size, bub_color, ylim, xlim=(-100, 100)):
    dots = pd.DataFrame(quakes, columns=["distance", "depth"])
    sns.scatterplot(data=dots, x="distance", y="depth", color="black", s=13, linewidth=0, ax=ax)
    # bubble diameters are in km, so tie them to the axis scale
    px_per_km = ax.get_position().width * W / (xlim[1] - xlim[0])
    areas = [(d * px_per_km * 0.72) ** 2 for d in bub_size]
    sns.scatterplot(x=bub_x, y=bub_d, s=areas, c=bub_color, linewidth=0, ax=ax, zorder=3)
    ax.set_xlim(*xlim)
    ax.set_ylim(*ylim)
    ax.set_xticks(distance_ticks)
    ax.set_yticks(depth_ticks)
    ax.set_xlabel("")
    ax.set_ylabel("")
    for s in ax.spines.values():
        s.set_linewidth(2.2)
        s.set_color("#333333")
    ax.tick_params(axis="both", direction="in", length=6, width=1, color="#555555", labelsize=23, labelcolor=GREY)
    ax.tick_params(axis="x", pad=8)
    ax.tick_params(axis="y", pad=8)
    ax.set_zorder(1)


fig = plt.figure(figsize=(W / 100, H / 100), dpi=100, facecolor="white")

ax1 = px_axes(fig, 157, 10, 1003, 289)
draw_layer(ax1, lower_west + lower_core + lower_east, lower_bubble_x, lower_bubble_depth, lower_bubble_size, lower_bubble_color, (135.5, 70))
ax1.text(0.967, 0.83, "Lower Layer", transform=ax1.transAxes, ha="right", va="center", fontsize=27.5, color=GREY)

ax2 = px_axes(fig, 1042, 10, 1886, 289)
draw_layer(ax2, upper_west + upper_core + upper_east, upper_bubble_x, upper_bubble_depth, upper_bubble_size, upper_bubble_color, (133.8, 67.4))
ax2.tick_params(axis="y", labelleft=False)
ax2.set_xticklabels(["", "-50", "0", "50", "100"])
ax2.text(0.944, 0.83, "Upper Layer", transform=ax2.transAxes, ha="right", va="center", fontsize=27.5, color=GREY)

fig_text(fig, 31, 160, "Depth (km)", fontsize=24, rotation=90)
fig_text(fig, 576, 365, "Distance (km)", fontsize=27)
fig_text(fig, 1458, 369, "Distance (km)", fontsize=27)

# older figure's tick row left in the composite
for x, s in zip([370, 505, 643, 780, 916], old_ticks):
    fig_text(fig, x, 410, s, fontsize=23, family=SANS)
for x, s in zip([1136, 1273, 1411, 1550, 1682], old_ticks):
    fig_text(fig, x, 410, s, fontsize=23, family=SANS)
fig_text(fig, 602, 456, "Distance (km)", fontsize=24, family=SANS)
fig_text(fig, 1346, 456, "Distance (km)", fontsize=24, family=SANS)

ax3 = px_axes(fig, 354, 503, 1549, 792)
sns.scatterplot(x=lsl_time, y=lsl_count, color="black", s=195, linewidth=0, ax=ax3, clip_on=False, zorder=3, label="M6.5 LSL")
sns.scatterplot(x=usl_time, y=usl_count, color="#e92a28", s=195, linewidth=0, ax=ax3, clip_on=False, zorder=4, label="M6.2 USL")
ax3.set_xscale("log")
ax3.set_xlim(0.00927, 10)
ax3.set_ylim(0, 20)
ax3.set_yticks(count_ticks + [20])
ax3.set_yticklabels([str(v) for v in count_ticks] + ["20"])
ax3.set_xticks(time_ticks)
ax3.set_xticklabels(["0.01", "0.1", "1", "10"])
ax3.tick_params(axis="x", which="major", direction="in", top=True, length=8, width=1, color="#808285", labelsize=22, labelcolor="#231f20", pad=14)
ax3.tick_params(axis="x", which="minor", direction="in", top=True, length=4, width=1, color="#808285")
ax3.tick_params(axis="y", direction="in", right=True, length=9, width=1, color="#808285", labelsize=24, labelcolor=GREY, pad=6)
for s in ax3.spines.values():
    s.set_linewidth(1.5)
    s.set_color("#808285")
ax3.set_xlabel("")
ax3.set_ylabel("")
handles, labels = ax3.get_legend_handles_labels()
leg = ax3.legend(handles[::-1], labels[::-1], frameon=False, fontsize=24, loc="upper left", markerscale=1.15,
                 bbox_to_anchor=((1205 - 354) / 1195, 1 - (539 - 503) / 289), labelspacing=1.24, handletextpad=0.93, borderpad=0, borderaxespad=0, handlelength=1.0)
for t in leg.get_texts():
    t.set_color(GREY)

fig_text(fig, 270, 647, "# earthquakes / 6 hours", fontsize=24, rotation=90)
fig_text(fig, 953, 873, "Time after mainshock (days)", fontsize=24)

fig.savefig("out.png", dpi=100, facecolor="white")
plt.close(fig)
